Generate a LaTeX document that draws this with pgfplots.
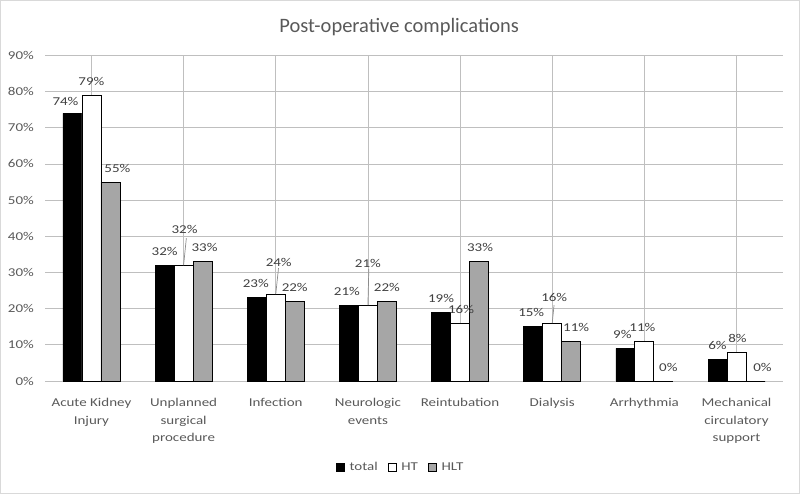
\documentclass[border=0pt]{standalone}
\usepackage{fontspec}
\setmainfont{Carlito}
\newfontfamily\wide[FakeStretch=1.25]{Carlito}
\usepackage{pgfplots}
\usepackage{pgfplotstable}
\pgfplotsset{compat=1.18}
\definecolor{txt}{HTML}{595959}
\definecolor{lbl}{HTML}{404040}
\definecolor{grid}{HTML}{D9D9D9}
\definecolor{hlt}{HTML}{A6A6A6}
\definecolor{lead}{HTML}{8C8C8C}

% values in %, label shifts in pt
\pgfplotstableread{
x total ht hlt tdx tdy hdx hdy ldx ldy
0 74 79 55 -7 -2 0 0  7 0
1 32 32 33  0  0 1 22 2 0
2 23 24 22 -1  0 3 18 0 0
3 21 21 22 -2  0 0 28 0 0
4 19 16 33  0  0 1 0  1 0
5 15 16 11 -2  0 2 12 5 0
6 9  11 0  -3  0 -2 0 5 0
7 6  8  0   0  0 1 0  7 0
}\comp

\begin{document}
\begin{tikzpicture}
\draw[grid, line width=0.8pt] (-45pt,-112pt) rectangle (755pt,381pt);
\begin{axis}[
  at={(0,0)}, anchor=south west,
  scale only axis, width=738pt, height=326pt,
  xmin=-0.5, xmax=7.5, ymin=0, ymax=90,
  ytick={0,10,...,90},
  xtick={0,...,7},
  xticklabels={Acute Kidney\\Injury, Unplanned\\surgical\\procedure, Infection,
    Neurologic\\events, Reintubation, Dialysis, Arrhythmia,
    Mechanical\\circulatory\\support},
  xticklabel style={align=center, anchor=north, yshift=-14pt,
    font=\wide\fontsize{12}{17.5}\selectfont, text=txt},
  yticklabel={\pgfmathprintnumber{\tick}\%},
  yticklabel style={font=\wide\fontsize{12}{14}\selectfont, text=txt, xshift=-8pt},
  /pgf/number format/assume math mode=true,
  ymajorgrids, grid style={grid, line width=0.8pt},
  axis line style={draw=none},
  major tick length=0pt,
  title={Post-operative complications},
  title style={at={(0.48,1.07)}, anchor=center,
    font=\fontsize{20.5}{22}\selectfont, text=txt},
  legend style={at={(0.482,-0.264)}, anchor=center, draw=none,
    legend columns=3, font=\wide\fontsize{12}{14}\selectfont, text=txt,
    /tikz/every odd column/.append style={column sep=3pt},
    /tikz/every even column/.append style={column sep=8pt}},
  legend image code/.code={\draw[#1, line width=0.6pt] (0pt,-4pt) rectangle (8pt,4pt);},
  every node near coord/.append style={font=\wide\fontsize{12}{14}\selectfont,
    text=lbl, anchor=base, inner sep=0pt},
]
\addplot[ybar, bar width=19pt, bar shift=-19pt,
  fill=black, draw=black, line width=0.8pt,
  nodes near coords={\pgfmathprintnumber{\pgfplotspointmeta}\%},
  visualization depends on={\thisrow{tdx} \as \dx},
  visualization depends on={\thisrow{tdy} \as \dy},
  nodes near coords style={xshift=\dx*1pt-19pt, yshift=10pt+\dy*1pt}]
  table[x=x, y=total] {\comp};
\addplot[ybar, bar width=19pt, bar shift=0pt,
  fill=white, draw=black, line width=0.8pt,
  nodes near coords={\pgfmathprintnumber{\pgfplotspointmeta}\%},
  visualization depends on={\thisrow{hdx} \as \dx},
  visualization depends on={\thisrow{hdy} \as \dy},
  nodes near coords style={xshift=\dx*1pt, yshift=10pt+\dy*1pt}]
  table[x=x, y=ht] {\comp};
\addplot[ybar, bar width=19pt, bar shift=19pt,
  fill=hlt, draw=black, line width=0.8pt,
  nodes near coords={\pgfmathprintnumber{\pgfplotspointmeta}\%},
  visualization depends on={\thisrow{ldx} \as \dx},
  visualization depends on={\thisrow{ldy} \as \dy},
  nodes near coords style={xshift=\dx*1pt+19pt, yshift=10pt+\dy*1pt}]
  table[x=x, y=hlt] {\comp};
\legend{total, HT, HLT}
% leader lines from the HT bars to their moved labels
\addplot[forget plot, draw=lead, line width=0.7pt, mark=none] coordinates {(1.00,32) (1.03,39.5)};
\addplot[forget plot, draw=lead, line width=0.7pt, mark=none] coordinates {(2.00,24) (2.03,31.2)};
\addplot[forget plot, draw=lead, line width=0.7pt, mark=none] coordinates {(3.00,21) (3.01,30.9)};
\addplot[forget plot, draw=lead, line width=0.7pt, mark=none] coordinates {(5.00,16) (5.02,21.0)};
\end{axis}
\end{tikzpicture}
\end{document}
